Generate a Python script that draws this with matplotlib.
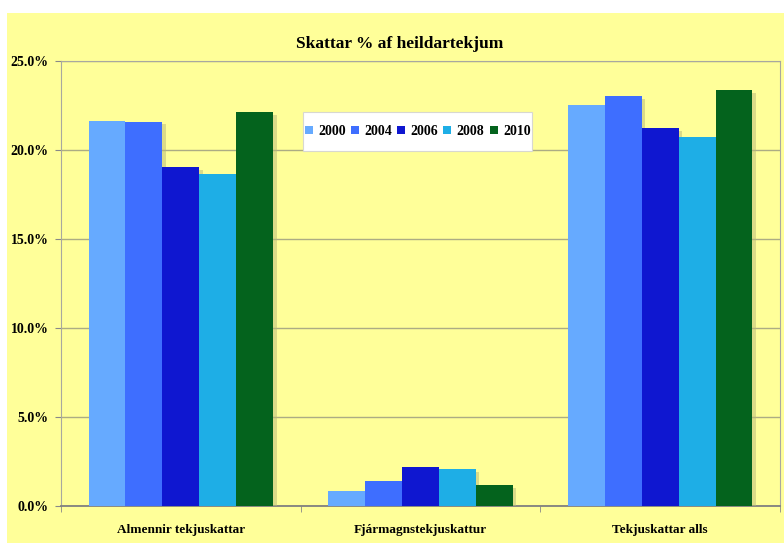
import matplotlib
matplotlib.use("Agg")
import matplotlib.pyplot as plt
import matplotlib.patheffects as pe
import numpy as np
from matplotlib.patches import Rectangle
from matplotlib.ticker import FuncFormatter, MultipleLocator

# data (percent of total income)
categories = ["Almennir tekjuskattar", "Fjármagnstekjuskattur", "Tekjuskattar alls"]
years = ["2000", "2004", "2006", "2008", "2010"]
v2000 = [21.65, 0.84, 22.53]
v2004 = [21.60, 1.39, 23.01]
v2006 = [19.04, 2.17, 21.25]
v2008 = [18.65, 2.06, 20.71]
v2010 = [22.15, 1.16, 23.35]
series = [v2000, v2004, v2006, v2008, v2010]

COLORS = ['#66AAFF', '#3E6EFF', '#0F17D0', '#1EAEE6', '#04631D']
BG = '#FFFF99'
SERIF = 'Liberation Serif'

fig = plt.figure(figsize=(7.84, 5.43), dpi=100, facecolor='white')
# yellow chart area (white margin at top/left like the original)
fig.patches.append(Rectangle((7 / 784, 0), 1 - 7 / 784, 1 - 13 / 543,
                             transform=fig.transFigure, facecolor=BG,
                             edgecolor='none', zorder=-10))

ax = fig.add_axes([61 / 784, 37 / 543, 719 / 784, 445 / 543])
ax.set_facecolor(BG)

x = np.arange(len(categories))
bw = 0.154
shadow = [pe.SimplePatchShadow(offset=(2.5, -2), shadow_rgbFace='#B8B878', alpha=0.5),
          pe.Normal()]
for i, (vals, col) in enumerate(zip(series, COLORS)):
    ax.bar(x + (i - 2) * bw, vals, bw, color=col, label=years[i], zorder=3,
           path_effects=shadow)

ax.set_xlim(-0.5, 2.5)
ax.set_ylim(0, 25)
ax.yaxis.set_major_locator(MultipleLocator(5))
ax.yaxis.set_major_formatter(FuncFormatter(lambda v, p: f"{v:.1f}%"))
ax.grid(axis='y', color='#ACAC84', linewidth=1.0, zorder=1)

ax.set_xticks(x)
ax.set_xticklabels(categories)
ax.set_xticks([-0.5, 0.5, 1.5, 2.5], minor=True)
ax.tick_params(axis='x', which='major', length=0, pad=13)
ax.tick_params(axis='x', which='minor', length=4, color='#888888', direction='out')
ax.tick_params(axis='y', length=4, color='#888888', pad=5)
for lab in ax.get_xticklabels():
    lab.set_fontfamily(SERIF)
    lab.set_fontweight('bold')
    lab.set_fontsize(9.5)
for lab in ax.get_yticklabels():
    lab.set_fontfamily(SERIF)
    lab.set_fontweight('bold')
    lab.set_fontsize(10)

for sp in ('left', 'right', 'top'):
    ax.spines[sp].set_color('#A8A8A0')
ax.spines['bottom'].set_color('#808080')
ax.spines['bottom'].set_linewidth(1.3)

fig.text(400 / 784, 1 - 44 / 543, "Skattar % af heildartekjum", ha='center', va='center',
         fontfamily=SERIF, fontweight='bold', fontsize=12.5)

# legend box (white, wider vertical padding than matplotlib's borderpad gives)
ax.add_patch(Rectangle((0.3366, 0.798), 0.3186, 0.087, transform=ax.transAxes,
                       facecolor='white', edgecolor='#D8D8D0', linewidth=0.8, zorder=5))
leg = ax.legend(loc='center', bbox_to_anchor=(0.496, 0.8416), ncol=5, frameon=False,
                handlelength=0.58, handleheight=0.58, handletextpad=0.38, columnspacing=0.38,
                borderpad=0.1, prop={'family': SERIF, 'weight': 'bold', 'size': 10})
leg.set_zorder(6)
for h in leg.legend_handles:
    h.set_path_effects([])

fig.savefig("out.png", dpi=100, facecolor=fig.get_facecolor())
